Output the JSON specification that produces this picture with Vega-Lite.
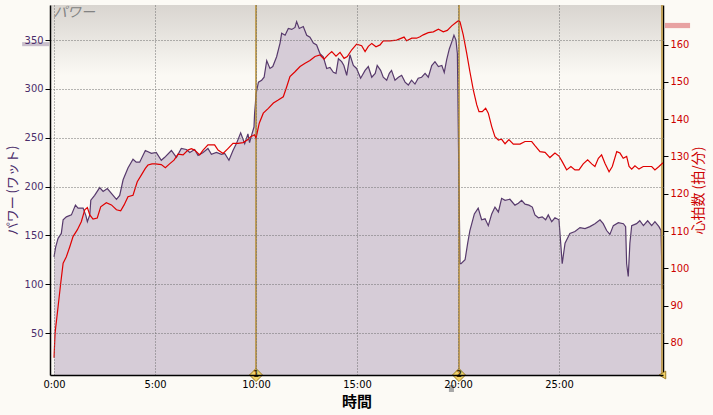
{
  "$schema": "https://vega.github.io/schema/vega-lite/v6.json",
  "width": 613,
  "height": 370,
  "autosize": {"type": "none"},
  "padding": {"left": 50, "top": 5, "right": 50, "bottom": 40},
  "background": "#fcfaf5",
  "config": {
    "view": {"stroke": null},
    "axis": {
      "gridDash": [1, 2],
      "gridColor": "#6e6e6e",
      "gridOpacity": 1,
      "gridWidth": 1,
      "domainColor": "#000000",
      "domainWidth": 1.5,
      "tickColor": "#000000",
      "labelFont": "DejaVu Sans Condensed, Liberation Sans",
      "labelFontSize": 11,
      "titleFont": "Noto Sans CJK JP"
    }
  },
  "datasets": {
    "power": [
      {"t":0,"p":128},{"t":0.03,"p":132},{"t":0.08,"p":138},{"t":0.2,"p":147},{"t":0.36,"p":152},{"t":0.45,"p":166},{"t":0.61,"p":169},{"t":0.86,"p":171},{"t":1.06,"p":181},{"t":1.19,"p":178},{"t":1.44,"p":178},{"t":1.58,"p":170},{"t":1.65,"p":164},{"t":1.77,"p":171},{"t":1.82,"p":186},{"t":2.01,"p":191},{"t":2.26,"p":199},{"t":2.43,"p":195},{"t":2.64,"p":198},{"t":2.84,"p":193},{"t":3.09,"p":187},{"t":3.25,"p":191},{"t":3.42,"p":207},{"t":3.66,"p":219},{"t":3.91,"p":228},{"t":4.07,"p":225},{"t":4.24,"p":225},{"t":4.52,"p":237},{"t":4.82,"p":234},{"t":5.06,"p":235},{"t":5.31,"p":227},{"t":5.48,"p":230},{"t":5.81,"p":237},{"t":6.06,"p":230},{"t":6.3,"p":239},{"t":6.55,"p":238},{"t":6.72,"p":235},{"t":6.96,"p":238},{"t":7.13,"p":232},{"t":7.38,"p":235},{"t":7.62,"p":239},{"t":7.79,"p":233},{"t":8.04,"p":235},{"t":8.29,"p":233},{"t":8.45,"p":234},{"t":8.66,"p":227},{"t":8.86,"p":237},{"t":9.03,"p":244},{"t":9.24,"p":255},{"t":9.44,"p":244},{"t":9.6,"p":254},{"t":9.68,"p":245},{"t":9.8,"p":254},{"t":9.9,"p":261},{"t":9.93,"p":275},{"t":9.97,"p":285},{"t":10,"p":295},{"t":10.12,"p":307},{"t":10.28,"p":309},{"t":10.4,"p":312},{"t":10.53,"p":329},{"t":10.69,"p":321},{"t":10.83,"p":323},{"t":11.02,"p":333},{"t":11.19,"p":347},{"t":11.27,"p":357},{"t":11.44,"p":355},{"t":11.6,"p":362},{"t":11.77,"p":361},{"t":11.93,"p":363},{"t":12.01,"p":369},{"t":12.14,"p":362},{"t":12.34,"p":364},{"t":12.51,"p":355},{"t":12.67,"p":353},{"t":12.84,"p":347},{"t":13,"p":345},{"t":13.17,"p":336},{"t":13.33,"p":333},{"t":13.5,"p":321},{"t":13.66,"p":322},{"t":13.83,"p":317},{"t":13.96,"p":316},{"t":14.08,"p":331},{"t":14.24,"p":328},{"t":14.35,"p":324},{"t":14.49,"p":314},{"t":14.65,"p":335},{"t":14.82,"p":324},{"t":14.98,"p":321},{"t":15.18,"p":311},{"t":15.4,"p":319},{"t":15.56,"p":323},{"t":15.73,"p":312},{"t":15.9,"p":316},{"t":16,"p":324},{"t":16.17,"p":319},{"t":16.3,"p":312},{"t":16.47,"p":309},{"t":16.6,"p":316},{"t":16.71,"p":319},{"t":16.88,"p":309},{"t":17.05,"p":312},{"t":17.21,"p":314},{"t":17.38,"p":307},{"t":17.54,"p":304},{"t":17.7,"p":309},{"t":17.87,"p":305},{"t":18.03,"p":311},{"t":18.2,"p":312},{"t":18.37,"p":316},{"t":18.53,"p":312},{"t":18.7,"p":324},{"t":18.86,"p":328},{"t":19.03,"p":323},{"t":19.2,"p":324},{"t":19.32,"p":317},{"t":19.44,"p":330},{"t":19.57,"p":341},{"t":19.69,"p":348},{"t":19.8,"p":355},{"t":19.9,"p":350},{"t":19.97,"p":336},{"t":20.05,"p":200},{"t":20.1,"p":121},{"t":20.15,"p":121},{"t":20.35,"p":125},{"t":20.48,"p":142},{"t":20.59,"p":155},{"t":20.81,"p":172},{"t":21,"p":178},{"t":21.17,"p":166},{"t":21.34,"p":167},{"t":21.5,"p":160},{"t":21.67,"p":172},{"t":21.83,"p":179},{"t":22,"p":174},{"t":22.16,"p":188},{"t":22.33,"p":186},{"t":22.57,"p":187},{"t":22.82,"p":181},{"t":22.99,"p":183},{"t":23.15,"p":186},{"t":23.32,"p":182},{"t":23.51,"p":181},{"t":23.68,"p":179},{"t":23.81,"p":171},{"t":23.98,"p":168},{"t":24.17,"p":169},{"t":24.34,"p":166},{"t":24.47,"p":171},{"t":24.64,"p":164},{"t":24.8,"p":168},{"t":25,"p":166},{"t":25.1,"p":138},{"t":25.16,"p":121},{"t":25.3,"p":142},{"t":25.54,"p":152},{"t":25.79,"p":154},{"t":26.04,"p":158},{"t":26.29,"p":157},{"t":26.53,"p":159},{"t":26.78,"p":162},{"t":27.03,"p":166},{"t":27.19,"p":162},{"t":27.36,"p":155},{"t":27.52,"p":151},{"t":27.69,"p":160},{"t":27.94,"p":163},{"t":28.19,"p":162},{"t":28.3,"p":159},{"t":28.35,"p":121},{"t":28.43,"p":108},{"t":28.51,"p":142},{"t":28.6,"p":160},{"t":28.84,"p":162},{"t":29,"p":165},{"t":29.18,"p":160},{"t":29.39,"p":165},{"t":29.59,"p":160},{"t":29.75,"p":164},{"t":29.95,"p":159},{"t":30.05,"p":155},{"t":30.12,"p":95}
    ],
    "hr": [
      {"t":0,"h":76},{"t":0.05,"h":82.6},{"t":0.2,"h":89.7},{"t":0.33,"h":96},{"t":0.45,"h":101.4},{"t":0.61,"h":103.1},{"t":0.78,"h":105.8},{"t":0.94,"h":108.5},{"t":1.15,"h":110.3},{"t":1.35,"h":112.5},{"t":1.52,"h":115.7},{"t":1.65,"h":116.3},{"t":1.77,"h":114.3},{"t":1.93,"h":113.2},{"t":2.14,"h":113.5},{"t":2.31,"h":116.5},{"t":2.59,"h":117.6},{"t":2.84,"h":117},{"t":3.09,"h":115.7},{"t":3.3,"h":115.4},{"t":3.47,"h":117},{"t":3.66,"h":119.2},{"t":3.91,"h":119.6},{"t":4.12,"h":123.2},{"t":4.32,"h":125},{"t":4.52,"h":126.8},{"t":4.65,"h":127.7},{"t":4.85,"h":128},{"t":5.01,"h":128},{"t":5.31,"h":127.8},{"t":5.51,"h":127},{"t":5.72,"h":128},{"t":5.94,"h":129},{"t":6.14,"h":130.6},{"t":6.39,"h":130.4},{"t":6.63,"h":131.7},{"t":6.8,"h":132.1},{"t":6.96,"h":131.7},{"t":7.21,"h":130.4},{"t":7.38,"h":131.7},{"t":7.62,"h":133.1},{"t":7.95,"h":133.1},{"t":8.12,"h":131.7},{"t":8.37,"h":130.8},{"t":8.61,"h":132.1},{"t":8.86,"h":133.5},{"t":9.11,"h":133.5},{"t":9.36,"h":133.7},{"t":9.57,"h":134.4},{"t":9.74,"h":135.3},{"t":9.93,"h":135.8},{"t":10,"h":134.9},{"t":10.16,"h":138.9},{"t":10.36,"h":141.6},{"t":10.61,"h":142.9},{"t":10.86,"h":144.3},{"t":11.1,"h":145.1},{"t":11.35,"h":146},{"t":11.52,"h":148.7},{"t":11.68,"h":151.4},{"t":11.93,"h":152.7},{"t":12.18,"h":154.1},{"t":12.43,"h":155},{"t":12.67,"h":155.7},{"t":12.92,"h":156.8},{"t":13.17,"h":157.2},{"t":13.37,"h":156.1},{"t":13.58,"h":157.3},{"t":13.75,"h":158.1},{"t":13.96,"h":156.9},{"t":14.16,"h":157.9},{"t":14.36,"h":156.3},{"t":14.52,"h":156.8},{"t":14.74,"h":158.6},{"t":14.98,"h":160.1},{"t":15.23,"h":159.7},{"t":15.4,"h":158.1},{"t":15.56,"h":159.5},{"t":15.73,"h":160.3},{"t":15.94,"h":159.4},{"t":16.14,"h":159.9},{"t":16.3,"h":161},{"t":16.63,"h":161},{"t":16.96,"h":161.2},{"t":17.33,"h":162},{"t":17.46,"h":161},{"t":17.71,"h":161.7},{"t":17.95,"h":161.7},{"t":18.12,"h":162.1},{"t":18.28,"h":162.6},{"t":18.53,"h":163.2},{"t":18.78,"h":163.4},{"t":19.03,"h":164.1},{"t":19.27,"h":163.4},{"t":19.47,"h":163.8},{"t":19.69,"h":165},{"t":19.9,"h":165.9},{"t":20.02,"h":166.4},{"t":20.1,"h":166.1},{"t":20.26,"h":162.6},{"t":20.43,"h":157.7},{"t":20.59,"h":152.7},{"t":20.76,"h":147.8},{"t":20.93,"h":143.8},{"t":21.04,"h":142},{"t":21.2,"h":142},{"t":21.37,"h":142.9},{"t":21.5,"h":141.6},{"t":21.67,"h":138},{"t":21.83,"h":135.3},{"t":22,"h":134.4},{"t":22.16,"h":134.6},{"t":22.33,"h":133.4},{"t":22.52,"h":134.5},{"t":22.74,"h":133.3},{"t":23.07,"h":133.3},{"t":23.32,"h":134},{"t":23.65,"h":134},{"t":23.81,"h":132.9},{"t":24.06,"h":131.3},{"t":24.31,"h":131.1},{"t":24.55,"h":129.7},{"t":24.8,"h":130.9},{"t":25,"h":130.1},{"t":25.16,"h":128.6},{"t":25.38,"h":126.4},{"t":25.59,"h":127.3},{"t":25.79,"h":126.4},{"t":25.99,"h":126.4},{"t":26.2,"h":128},{"t":26.42,"h":129.1},{"t":26.62,"h":128},{"t":26.78,"h":127.3},{"t":26.95,"h":129.5},{"t":27.11,"h":130.4},{"t":27.28,"h":128.1},{"t":27.48,"h":125.9},{"t":27.64,"h":127.3},{"t":27.86,"h":131.3},{"t":28.02,"h":130.9},{"t":28.18,"h":129.5},{"t":28.35,"h":130},{"t":28.47,"h":127.3},{"t":28.6,"h":126.6},{"t":28.76,"h":127.5},{"t":28.96,"h":126.6},{"t":29.17,"h":127.3},{"t":29.59,"h":127.3},{"t":29.75,"h":126.4},{"t":29.95,"h":127.3},{"t":30.15,"h":128.3}
    ],
    "laps": [
      {"t": 10.0, "lap": "1"},
      {"t": 20.05, "lap": "2"}
    ]
  },
  "layer": [
    {
      "layer": [
        {
          "data": {"values": [{"a": 1}]},
          "mark": {
            "type": "rect",
            "fill": {
              "gradient": "linear",
              "x1": 0, "y1": 0, "x2": 0, "y2": 1,
              "stops": [
                {"offset": 0, "color": "#d9d5d0"},
                {"offset": 0.06, "color": "#e3e0db"},
                {"offset": 0.19, "color": "#fbf9f4"},
                {"offset": 1, "color": "#fbf9f4"}
              ]
            }
          },
          "encoding": {
            "x": {"datum": -0.2, "type": "quantitative", "scale": {"domain": [-0.2, 30.15], "nice": false, "zero": false}},
            "x2": {"datum": 30.15},
            "y": {"datum": 386, "type": "quantitative", "scale": {"domain": [7, 386], "nice": false, "zero": false}},
            "y2": {"datum": 7}
          }
        },
        {
          "data": {"name": "power"},
          "mark": {"type": "area", "color": "#d6ccd7", "opacity": 1, "line": {"color": "#573a6c", "strokeWidth": 1.2}},
          "encoding": {
            "x": {
              "field": "t", "type": "quantitative",
              "scale": {"domain": [-0.2, 30.15], "nice": false, "zero": false},
              "axis": {
                "values": [0, 5, 10, 15, 20, 25],
                "labelExpr": "datum.value + ':00'",
                "labelColor": "#000000",
                "ticks": false,
                "grid": true,
                "zindex": 1,
                "labelPadding": 3,
                "title": "時間",
                "titleFontSize": 15,
                "titleFontWeight": "bold",
                "titleColor": "#000000",
                "titlePadding": 5
              }
            },
            "y": {
              "field": "p", "type": "quantitative",
              "scale": {"domain": [7, 386], "nice": false, "zero": false},
              "axis": {
                "values": [50, 100, 150, 200, 250, 300, 350],
                "labelColor": "#4b2d6b",
                "tickSize": 5,
                "grid": true,
                "zindex": 1,
                "labelPadding": 2,
                "title": "パワー (ワット)",
                "titleColor": "#4b2d6b",
                "titleFontSize": 13,
                "titleFontWeight": "normal",
                "titlePadding": 5
              }
            },
            "y2": {"datum": 7}
          }
        },
        {
          "data": {"values": [{"a": 1}]},
          "mark": {"type": "rect", "color": "#c9bfcc"},
          "encoding": {
            "x": {"datum": -1.58, "type": "quantitative", "scale": {"domain": [-0.2, 30.15], "nice": false, "zero": false}},
            "x2": {"datum": -0.25},
            "y": {"datum": 348, "type": "quantitative", "scale": {"domain": [7, 386], "nice": false, "zero": false}},
            "y2": {"datum": 343.8}
          }
        },
        {
          "data": {"values": [{"a": 1}]},
          "mark": {"type": "rect", "color": "#a8a8a8"},
          "encoding": {
            "x": {"datum": 19.55, "type": "quantitative", "scale": {"domain": [-0.2, 30.15], "nice": false, "zero": false}},
            "x2": {"datum": 19.8},
            "y": {"datum": -3.3, "type": "quantitative", "scale": {"domain": [7, 386], "nice": false, "zero": false}},
            "y2": {"datum": -10.4}
          }
        },
        {
          "data": {"values": [{"label": "パワー"}]},
          "mark": {"type": "text", "align": "left", "baseline": "top", "font": "Noto Sans CJK JP", "fontSize": 14, "fontStyle": "italic", "color": "#828282", "dx": -1, "dy": 1},
          "encoding": {
            "x": {"datum": 0, "type": "quantitative", "scale": {"domain": [-0.2, 30.15], "nice": false, "zero": false}},
            "y": {"datum": 386, "type": "quantitative", "scale": {"domain": [7, 386], "nice": false, "zero": false}},
            "text": {"field": "label"}
          }
        },
        {
          "data": {"values": [{"t": 10.0}, {"t": 20.05}, {"t": 30.1}]},
          "mark": {"type": "rule", "color": "#b48a2c", "strokeWidth": 1.5},
          "encoding": {
            "x": {"field": "t", "type": "quantitative", "scale": {"domain": [-0.2, 30.15], "nice": false, "zero": false}}
          }
        },
        {
          "data": {"name": "laps"},
          "mark": {"type": "point", "shape": "diamond", "filled": true, "fill": "#f2d36a", "stroke": "#9c7b22", "strokeWidth": 1, "size": 170, "opacity": 1},
          "encoding": {
            "x": {"field": "t", "type": "quantitative", "scale": {"domain": [-0.2, 30.15], "nice": false, "zero": false}},
            "y": {"datum": 7, "type": "quantitative", "scale": {"domain": [7, 386], "nice": false, "zero": false}}
          }
        },
        {
          "data": {"values": [{"t": 30.12}]},
          "mark": {"type": "point", "shape": "triangle-left", "filled": true, "fill": "#f2d36a", "stroke": "#9c7b22", "strokeWidth": 1, "size": 60, "opacity": 1},
          "encoding": {
            "x": {"field": "t", "type": "quantitative", "scale": {"domain": [-0.2, 30.15], "nice": false, "zero": false}},
            "y": {"datum": 7, "type": "quantitative", "scale": {"domain": [7, 386], "nice": false, "zero": false}}
          }
        },
        {
          "data": {"name": "laps"},
          "mark": {"type": "text", "fontSize": 8, "font": "DejaVu Sans", "fontWeight": "bold", "color": "#3a2a00", "baseline": "middle", "align": "center"},
          "encoding": {
            "x": {"field": "t", "type": "quantitative", "scale": {"domain": [-0.2, 30.15], "nice": false, "zero": false}},
            "y": {"datum": 7, "type": "quantitative", "scale": {"domain": [7, 386], "nice": false, "zero": false}},
            "text": {"field": "lap"}
          }
        }
      ]
    },
    {
      "layer": [
        {
          "data": {"name": "hr"},
          "mark": {"type": "line", "color": "#e00000", "strokeWidth": 1.2},
          "encoding": {
            "x": {"field": "t", "type": "quantitative", "scale": {"domain": [-0.2, 30.15], "nice": false, "zero": false}},
            "y": {
              "field": "h", "type": "quantitative",
              "scale": {"domain": [71.4, 170.6], "nice": false, "zero": false},
              "axis": {
                "orient": "right",
                "grid": false,
                "values": [80, 90, 100, 110, 120, 130, 140, 150, 160],
                "labelColor": "#cc0000",
                "tickSize": 5,
                "labelPadding": 2,
                "title": "心拍数 (拍/分)",
                "titleColor": "#cc0000",
                "titleFontSize": 14,
                "titleFontWeight": "normal",
                "titleAngle": 270,
                "titlePadding": 17
              }
            }
          }
        },
        {
          "data": {"values": [{"a": 1}]},
          "mark": {"type": "rect", "color": "#e8a2a2"},
          "encoding": {
            "x": {"datum": 30.25, "type": "quantitative", "scale": {"domain": [-0.2, 30.15], "nice": false, "zero": false}},
            "x2": {"datum": 31.49},
            "y": {"datum": 165.8, "type": "quantitative", "scale": {"domain": [71.4, 170.6], "nice": false, "zero": false}},
            "y2": {"datum": 164.4}
          }
        }
      ]
    }
  ],
  "resolve": {"scale": {"y": "independent"}}
}
